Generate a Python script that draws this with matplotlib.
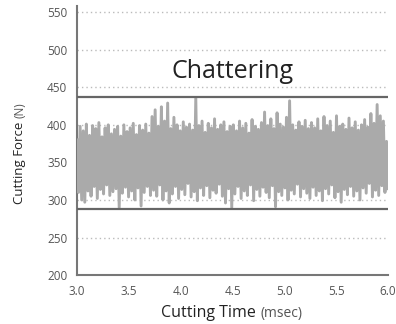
"""Cutting force during chattering."""

import numpy as np
import matplotlib
matplotlib.use("Agg")
from matplotlib import pyplot as plt

force_hi = [
    380, 398, 392, 401, 386, 399, 395, 403, 384, 396, 400, 388, 394,
    398, 385, 400, 391, 396, 402, 387, 399, 393, 401, 389, 411,
    420, 398, 424, 405, 429, 395, 410, 400, 392, 404, 397, 401, 393,
    436, 399, 405, 390, 402, 396, 408, 394, 400, 404, 391, 398,
    400, 392, 405, 396, 402, 389, 407, 398, 394, 403, 417, 399, 408,
    395, 416, 401, 397, 410, 432, 400, 393, 404, 398, 406, 395,
    403, 396, 408, 392, 411, 399, 405, 390, 412, 398, 401, 394, 409,
    396, 404, 393, 400, 407, 397, 415, 402, 427, 412, 405, 378,
]
force_lo = [
    310, 300, 297, 312, 305, 318, 302, 314, 308, 320, 306, 311, 315,
    290, 309, 317, 304, 312, 300, 316, 292, 310, 318, 306, 313,
    305, 320, 300, 312, 296, 308, 318, 302, 314, 307, 322, 304, 311,
    299, 316, 306, 319, 303, 313, 309, 321, 305, 296, 315, 290,
    308, 318, 302, 312, 306, 320, 299, 314, 305, 317, 310, 303, 319,
    291, 311, 306, 316, 300, 313, 308, 321, 304, 315, 309, 302,
    317, 306, 312, 299, 315, 308, 320, 303, 311, 297, 314, 307, 318,
    305, 312, 300, 316, 309, 322, 304, 313, 306, 319, 310, 315,
]
T_START, T_END = 3.0, 6.0
LIMITS = [437, 288]  # chatter band
YTICKS = [200, 250, 300, 350, 400, 450, 500, 550]
XTICKS = [3.0, 3.5, 4.0, 4.5, 5.0, 5.5, 6.0]

force = np.column_stack([force_hi, force_lo]).ravel()
time = np.linspace(T_START, T_END, len(force))

plt.rcParams["font.family"] = ["Open Sans", "DejaVu Sans"]
fig = plt.figure(figsize=(3.96, 3.24), dpi=100)
ax = fig.add_axes([0.1944, 0.151, 0.7856, 0.830])

ax.plot(time, force, color="#aaaaaa", lw=2.1, zorder=3)
for y in LIMITS:
    ax.axhline(y, color="#666666", lw=1.6, zorder=4)
for y in YTICKS[1:]:
    ax.axhline(y, color="#bbbbbb", lw=1.0, ls=(0, (1, 2.2)), zorder=1)

ax.text(4.5, 471, "Chattering", ha="center", va="center",
        fontsize=18, color="#222222")

ax.set_xlim(T_START, T_END)
ax.set_ylim(200, 558)
ax.set_xticks(XTICKS)
ax.set_xticklabels([f"{x:.1f}" for x in XTICKS])
ax.set_yticks(YTICKS)
ax.tick_params(length=0, labelsize=8.5, labelcolor="#555555", pad=7)
for side in ("top", "right"):
    ax.spines[side].set_visible(False)
for side in ("left", "bottom"):
    ax.spines[side].set_color("#777777")
    ax.spines[side].set_linewidth(1.5)

# axis titles with lighter units
xl = fig.text(0.657, 0.034, "Cutting Time ", ha="right", va="center",
              fontsize=11.5, color="#222222")
ax.annotate("(msec)", xy=(1, 0.45), xycoords=xl, ha="left", va="center",
            fontsize=10, color="#555555")
yl = fig.text(0.05, 0.636, "Cutting Force ", ha="center", va="top",
              rotation=90, fontsize=9.5, color="#222222")
ax.annotate("(N)", xy=(0.55, 1), xycoords=yl, ha="center", va="bottom",
            rotation=90, fontsize=8.5, color="#555555")

fig.savefig("out.png", dpi=100)
